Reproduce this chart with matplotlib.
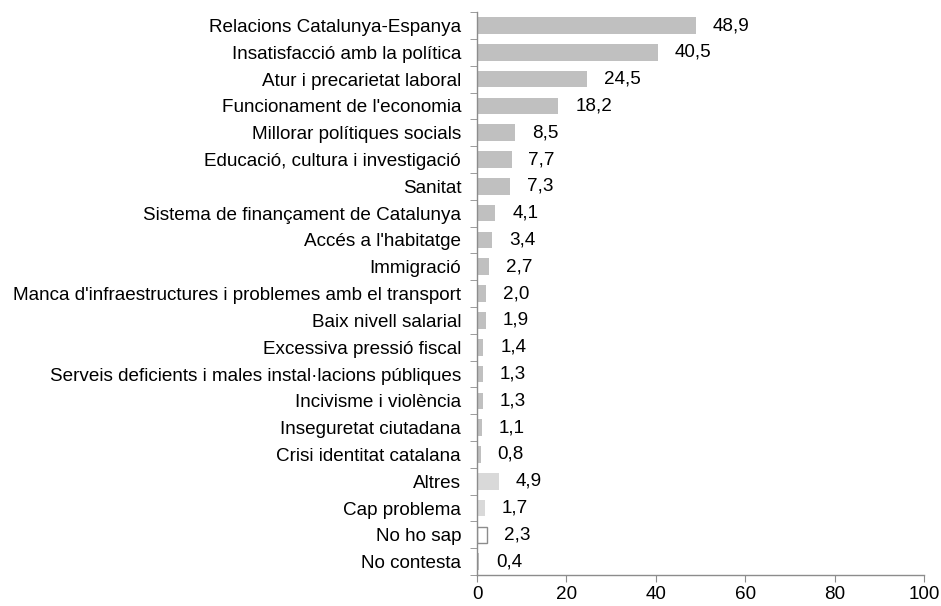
import numpy as np
import matplotlib
matplotlib.use("Agg")
import matplotlib.pyplot as plt

plt.rcParams['font.family'] = ['Liberation Sans', 'DejaVu Sans']

categories = [
    "Relacions Catalunya-Espanya",
    "Insatisfacció amb la política",
    "Atur i precarietat laboral",
    "Funcionament de l'economia",
    "Millorar polítiques socials",
    "Educació, cultura i investigació",
    "Sanitat",
    "Sistema de finançament de Catalunya",
    "Accés a l'habitatge",
    "Immigració",
    "Manca d'infraestructures i problemes amb el transport",
    "Baix nivell salarial",
    "Excessiva pressió fiscal",
    "Serveis deficients i males instal·lacions públiques",
    "Incivisme i violència",
    "Inseguretat ciutadana",
    "Crisi identitat catalana",
    "Altres",
    "Cap problema",
    "No ho sap",
    "No contesta",
]
values = [48.9, 40.5, 24.5, 18.2, 8.5, 7.7, 7.3, 4.1, 3.4, 2.7, 2.0, 1.9,
          1.4, 1.3, 1.3, 1.1, 0.8, 4.9, 1.7, 2.3, 0.4]

# bar styles: main problems dark gray, others lighter, "No ho sap" outlined
face = ["#c0c0c0"] * 17 + ["#d9d9d9", "#d9d9d9", "white", "#c0c0c0"]
edge = ["none"] * 19 + ["#8c8c8c", "none"]

fs = 13.6

fig = plt.figure(figsize=(9.41, 6.06), dpi=100)
ax = fig.add_axes([0.507, 0.051, 0.475, 0.929])

n = len(categories)
y = np.arange(n)
ax.barh(y, values, height=0.62, color=face, edgecolor=edge, linewidth=1.0)

for yi, v in zip(y, values):
    ax.text(v + 3.8, yi, f"{v:.1f}".replace(".", ","), va="center", ha="left",
            fontsize=fs, color="black")

ax.set_ylim(n - 0.5, -0.5)
ax.set_xlim(0, 100)
ax.set_xticks(np.arange(0, 101, 20))
ax.tick_params(axis="x", direction="out", length=5, color="#8c8c8c", labelsize=fs, pad=3)

# category labels between boundary ticks
ax.set_yticks(y)
ax.set_yticklabels(categories, fontsize=fs)
ax.tick_params(axis="y", length=0, pad=11.5)
ax.set_yticks(np.arange(-0.5, n, 1), minor=True)
ax.tick_params(axis="y", which="minor", direction="out", length=5, color="#8c8c8c")

for s in ["top", "right"]:
    ax.spines[s].set_visible(False)
for s in ["left", "bottom"]:
    ax.spines[s].set_color("#8c8c8c")
    ax.spines[s].set_linewidth(1.0)

fig.savefig("out.png", dpi=100)
